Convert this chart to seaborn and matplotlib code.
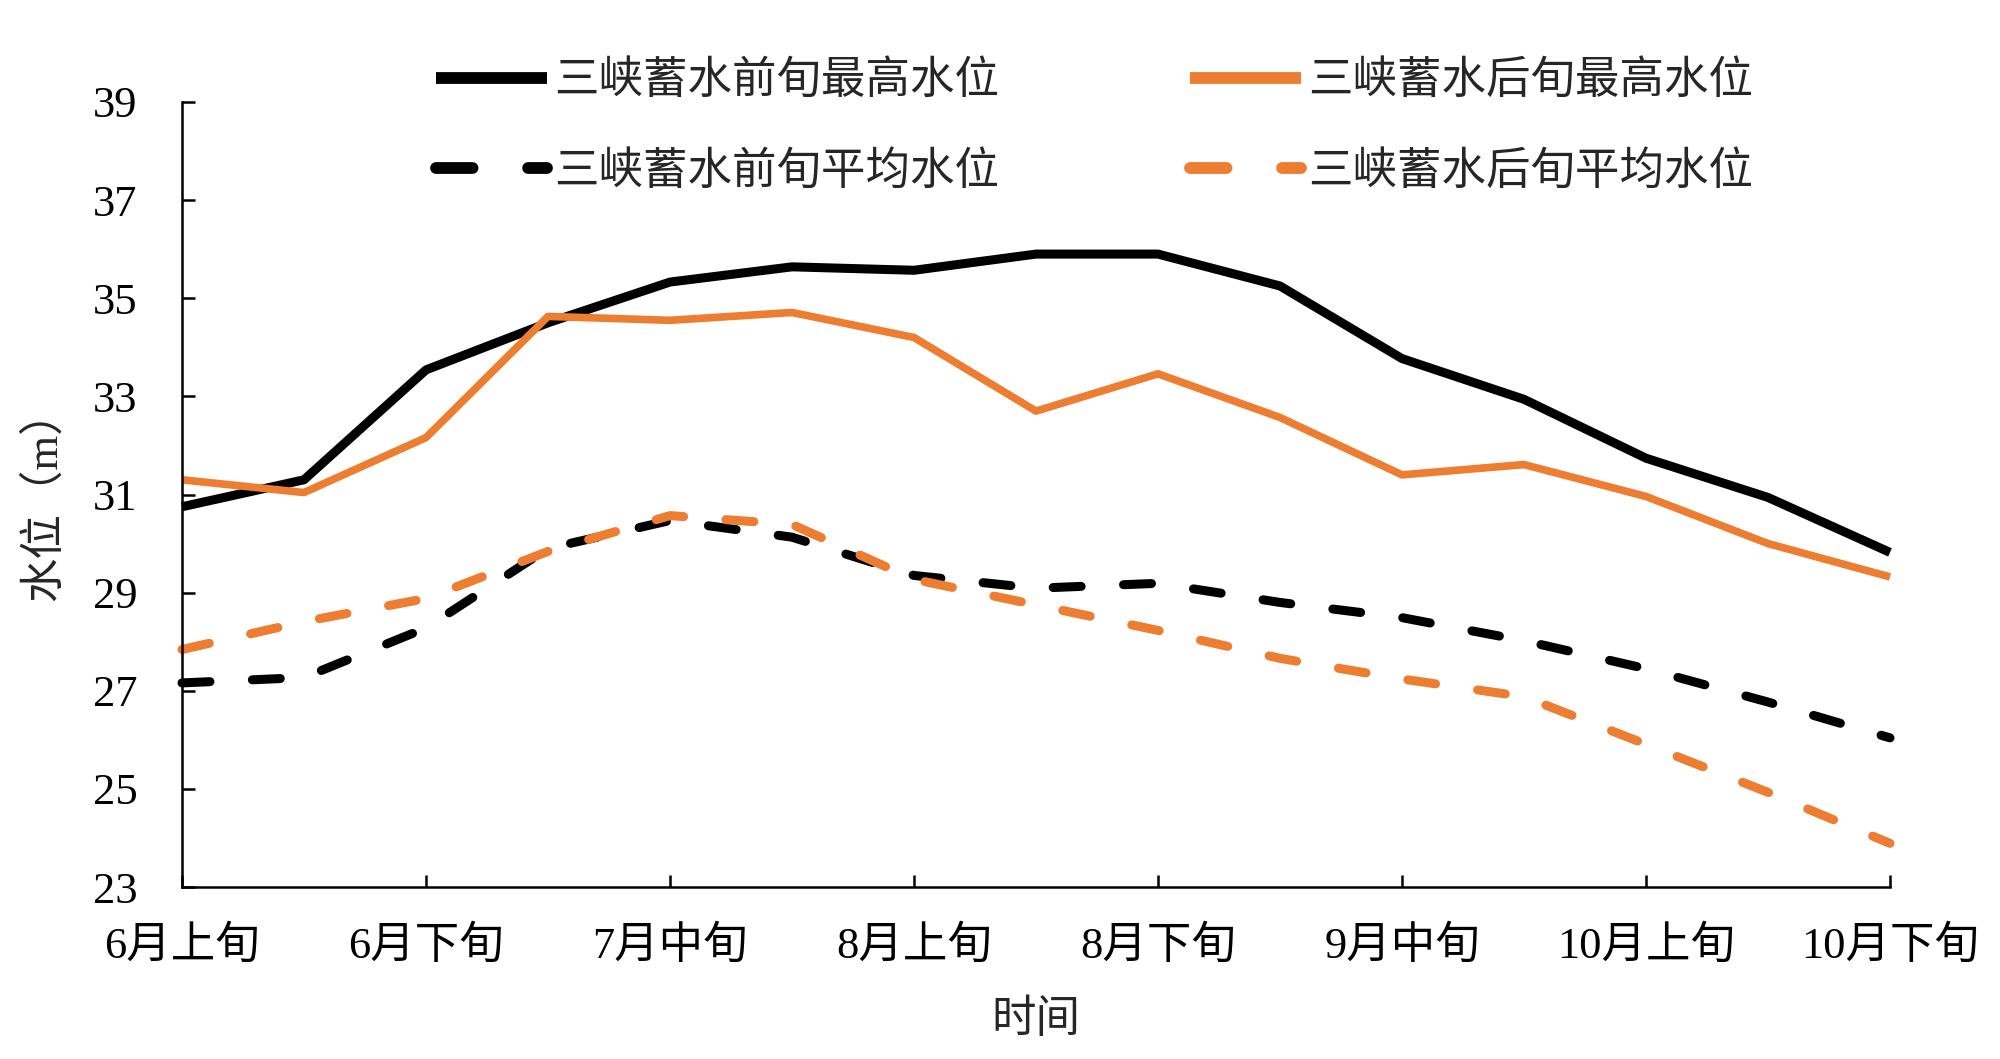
#!/usr/bin/env python3
"""Three Gorges impoundment: dekad water levels before/after."""

import matplotlib.pyplot as plt
import pandas as pd
import seaborn as sns

periods = ["6月上旬", "6月中旬", "6月下旬", "7月上旬", "7月中旬", "7月下旬",
           "8月上旬", "8月中旬", "8月下旬", "9月上旬", "9月中旬", "9月下旬",
           "10月上旬", "10月中旬", "10月下旬"]

before_max = [30.75, 31.30, 33.54, 34.50, 35.33, 35.64, 35.57, 35.90, 35.90,
              35.25, 33.77, 32.94, 31.74, 30.94, 29.82]
after_max = [31.30, 31.04, 32.16, 34.63, 34.55, 34.71, 34.20, 32.70, 33.46,
             32.57, 31.40, 31.61, 30.96, 30.00, 29.32]
before_mean = [27.16, 27.27, 28.28, 29.90, 30.47, 30.13, 29.35, 29.09, 29.19,
               28.80, 28.49, 28.02, 27.45, 26.77, 26.04]
after_mean = [27.84, 28.41, 28.88, 29.84, 30.57, 30.39, 29.27, 28.75, 28.23,
              27.66, 27.24, 26.88, 25.91, 24.93, 23.89]

series_names = ["三峡蓄水前旬最高水位", "三峡蓄水前旬平均水位",
                "三峡蓄水后旬最高水位", "三峡蓄水后旬平均水位"]

BLACK = "#000000"
ORANGE = "#ED7D31"
DASH = (0, (3.1, 4.7))

sns.set_theme(style="white")
plt.rcParams["font.family"] = ["Liberation Serif", "Noto Sans CJK SC"]
plt.rcParams["axes.unicode_minus"] = False

df = pd.DataFrame({"idx": range(len(periods)), "period": periods})
styles = [
    (before_max, BLACK, 6.5, "-"),
    (before_mean, BLACK, 6.5, DASH),
    (after_max, ORANGE, 5.5, "-"),
    (after_mean, ORANGE, 6.5, DASH),
]

fig = plt.figure(figsize=(20, 10.59), dpi=100)
ax = fig.add_axes([0.091, 0.1624, 0.854, 0.7413])

for name, (vals, color, lw, ls) in zip(series_names, styles):
    df[name] = vals
    sns.lineplot(data=df, x="idx", y=name, ax=ax, color=color, lw=lw,
                 linestyle=ls, label=name, dash_capstyle="round",
                 solid_capstyle="butt", clip_on=False)

ax.set_xlim(0, len(periods) - 1)
ax.set_ylim(23, 39)
ax.set_xticks(range(0, len(periods), 2))
ax.set_xticklabels(periods[::2])
ax.set_yticks(range(23, 40, 2))

for side in ["top", "right"]:
    ax.spines[side].set_visible(False)
for side in ["left", "bottom"]:
    ax.spines[side].set_linewidth(1.8)
    ax.spines[side].set_color("black")

ax.tick_params(axis="both", direction="in", length=9, width=1.8,
               labelsize=32, colors="black", bottom=True, left=True)
ax.tick_params(axis="x", pad=28)
ax.tick_params(axis="y", pad=32)

ax.set_xlabel("时间", fontsize=32, labelpad=23)
ax.set_ylabel("水位（m）", fontsize=32, labelpad=20)

ax.get_legend().remove()
handles, labels = ax.get_legend_handles_labels()
leg = fig.legend(handles, labels, ncol=2, loc="upper left",
                 bbox_to_anchor=(0.218, 0.943), frameon=False, fontsize=32,
                 handlelength=2.5, handletextpad=0.15, columnspacing=4.3,
                 labelspacing=1.1, borderpad=0, borderaxespad=0)
for line in leg.get_lines():
    line.set_linewidth(8.5)

fig.savefig("out.png", dpi=100, facecolor="white")
